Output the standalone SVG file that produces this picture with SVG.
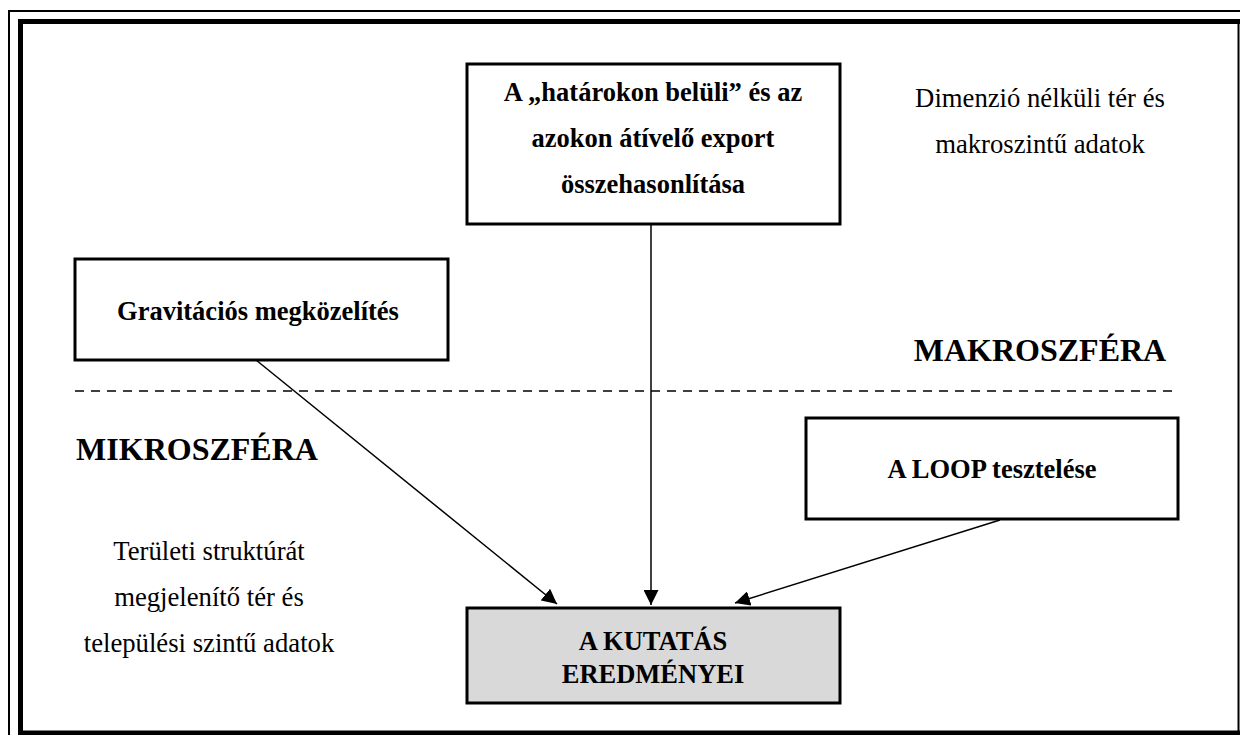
<svg xmlns="http://www.w3.org/2000/svg" width="1240" height="735" viewBox="0 0 1240 735">
<defs>
<style>
.t{font-family:"Liberation Serif","Times New Roman",serif;fill:#000;text-anchor:middle}
.b{font-weight:bold;font-size:26.5px}
.r{font-size:26.7px}
.big{font-weight:bold;font-size:32px}
.box{fill:#fff;stroke:#000;stroke-width:3}
.conn{stroke:#000;stroke-width:1.5;fill:none}
</style>
<marker id="ah" viewBox="0 0 10 10" refX="10" refY="5" markerWidth="15" markerHeight="15" markerUnits="userSpaceOnUse" orient="auto">
<path d="M0,0 L10,5 L0,10 Z" fill="#000"/>
</marker>
</defs>
<rect width="1240" height="735" fill="#fff"/>
<g id="frame" fill="none" stroke="#000">
<path d="M9,735 V11 H1240" stroke-width="2"/>
<path d="M20.5,735 V21.5 H1240" stroke-width="5"/>
<path d="M18,733 H1240" stroke-width="5"/>
<path d="M1238.5,19 V735" stroke-width="2"/>
</g>
<line x1="75" y1="391" x2="1176" y2="391" stroke="#000" stroke-width="1.5" stroke-dasharray="9,7"/>
<g id="connectors">
<line class="conn" x1="651" y1="225" x2="651" y2="605" marker-end="url(#ah)"/>
<line class="conn" x1="256" y1="360" x2="557" y2="604" marker-end="url(#ah)"/>
<line class="conn" x1="1000" y1="520" x2="735" y2="603" marker-end="url(#ah)"/>
</g>
<g id="node-export">
<rect class="box" x="467" y="64" width="373" height="160"/>
<text class="t b" x="653" y="101">A „határokon belüli” és az</text>
<text class="t b" x="653" y="147">azokon átívelő export</text>
<text class="t b" x="653" y="193">összehasonlítása</text>
</g>
<g id="node-gravity">
<rect class="box" x="75" y="259" width="373" height="101"/>
<text class="t b" x="258" y="320">Gravitációs megközelítés</text>
</g>
<g id="node-loop">
<rect class="box" x="806" y="418" width="372" height="101"/>
<text class="t b" x="992" y="478">A LOOP tesztelése</text>
</g>
<g id="node-result">
<rect class="box" x="467" y="608" width="373" height="95" style="fill:#d9d9d9"/>
<text class="t b" x="653" y="650">A KUTATÁS</text>
<text class="t b" x="653" y="683">EREDMÉNYEI</text>
</g>
<g id="label-macro">
<text class="t r" x="1040" y="107">Dimenzió nélküli tér és</text>
<text class="t r" x="1040" y="153">makroszintű adatok</text>
<text class="t big" x="1040" y="361">MAKROSZFÉRA</text>
</g>
<g id="label-micro">
<text class="t big" x="197" y="460">MIKROSZFÉRA</text>
<text class="t r" x="209" y="560">Területi struktúrát</text>
<text class="t r" x="209" y="606">megjelenítő tér és</text>
<text class="t r" x="209" y="652">települési szintű adatok</text>
</g>
</svg>
